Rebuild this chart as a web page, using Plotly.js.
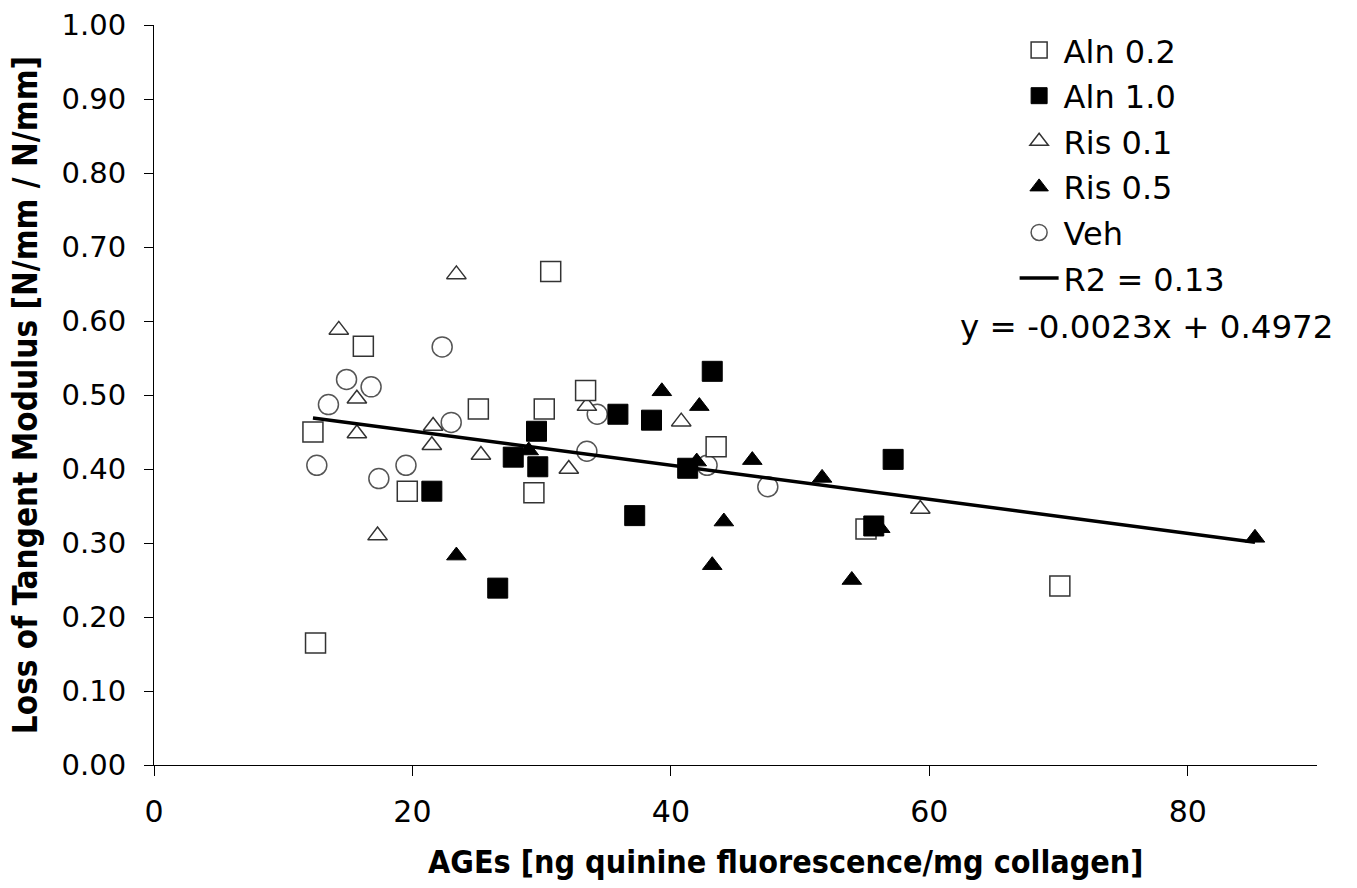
<!DOCTYPE html>
<html>
<head>
<meta charset="utf-8">
<script src="https://cdn.plot.ly/plotly-3.0.1.min.js"></script>
<style>html,body{margin:0;padding:0;background:#fff;}#chart{width:1357px;height:888px;}</style>
</head>
<body>
<div id="chart"></div>
<script>
// Data
var aln02X = [12.3, 16.2, 12.5, 19.6, 25.1, 30.7, 30.2, 29.4, 33.4, 43.5, 55.1, 70.1];
var aln02Y = [0.450, 0.566, 0.165, 0.370, 0.481, 0.667, 0.481, 0.368, 0.506, 0.430, 0.319, 0.242];

var aln10X = [21.5, 26.6, 27.8, 29.6, 29.7, 35.9, 37.2, 38.5, 41.3, 43.2, 55.7, 57.2];
var aln10Y = [0.370, 0.239, 0.416, 0.451, 0.403, 0.474, 0.337, 0.466, 0.401, 0.532, 0.323, 0.413];

var ris01X = [23.4, 14.3, 15.7, 15.7, 21.6, 21.5, 25.3, 17.3, 33.5, 32.1, 40.8, 59.3];
var ris01Y = [0.663, 0.588, 0.495, 0.448, 0.458, 0.432, 0.419, 0.310, 0.485, 0.400, 0.464, 0.346];

var ris05X = [23.4, 29.0, 39.3, 42.2, 42.0, 46.3, 44.1, 43.2, 51.7, 54.0, 56.2, 85.2];
var ris05Y = [0.283, 0.425, 0.505, 0.485, 0.410, 0.412, 0.329, 0.270, 0.388, 0.250, 0.320, 0.307];

var vehX = [14.9, 16.8, 13.5, 22.3, 23.0, 12.6, 19.5, 17.4, 34.3, 33.5, 42.8, 47.5];
var vehY = [0.521, 0.511, 0.487, 0.565, 0.463, 0.405, 0.405, 0.387, 0.474, 0.424, 0.405, 0.376];

var trendX = [12.3, 85.2];
var trendY = [0.469, 0.301];

var seriesNames = ["Aln 0.2", "Aln 1.0", "Ris 0.1", "Ris 0.5", "Veh", "R2 = 0.13"];
var equationText = "y = -0.0023x + 0.4972";
var xTitle = "AGEs [ng quinine fluorescence/mg collagen]";
var yTitle = "Loss of Tangent Modulus [N/mm / N/mm]";

var lineCol = "#333333";
function mk(x, y, name, rank, symbol, size, fill, lc, lw) {
  return {
    x: x, y: y, type: "scatter", mode: "markers", name: name,
    legendrank: rank, legendgroup: name,
    marker: {symbol: symbol, size: size, color: fill, line: {color: lc, width: lw}},
    hoverinfo: "x+y"
  };
}
var traces = [
  mk(vehX, vehY, seriesNames[4], 5, "circle", 20, "rgba(255,255,255,0)", "#555555", 1.5),
  mk(ris01X, ris01Y, seriesNames[2], 3, "triangle-up", 17, "#ffffff", lineCol, 1.5),
  mk(aln02X, aln02Y, seriesNames[0], 1, "square", 20, "#ffffff", lineCol, 1.5),
  mk(ris05X, ris05Y, seriesNames[3], 4, "triangle-up", 17, "#000000", "#000000", 1),
  mk(aln10X, aln10Y, seriesNames[1], 2, "square", 20, "#000000", "#000000", 1),
  {x: trendX, y: trendY, type: "scatter", mode: "lines", name: seriesNames[5],
   legendrank: 6, legendgroup: "trend",
   line: {color: "#000000", width: 3.5}, hoverinfo: "skip"}
];

var textFont = "DejaVu Sans, Verdana, sans-serif";
var titleFont = "DejaVu Sans Condensed, Liberation Sans Narrow, sans-serif";

var layout = {
  width: 1357, height: 888,
  paper_bgcolor: "#ffffff", plot_bgcolor: "#ffffff",
  margin: {l: 154, r: 40, t: 25, b: 123},
  font: {family: textFont, size: 30, color: "#000000"},
  showlegend: true,
  legend: {
    x: 0.74, y: 1.003, xanchor: "left", yanchor: "top",
    bgcolor: "rgba(255,255,255,0)", borderwidth: 0,
    font: {family: textFont, size: 32, color: "#000000"},
    traceorder: "grouped", tracegroupgap: 1, itemwidth: 39
  },
  xaxis: {
    range: [0, 90], dtick: 20, tick0: 0,
    showgrid: false, zeroline: false,
    showline: true, linecolor: "#000000", linewidth: 1,
    ticks: "outside", ticklen: 10, tickcolor: "#000000",
    ticklabelstandoff: 10,
    tickfont: {family: textFont, size: 30}
  },
  yaxis: {
    range: [0, 1], dtick: 0.1, tick0: 0, tickformat: ".2f",
    showgrid: false, zeroline: false,
    showline: true, linecolor: "#000000", linewidth: 1,
    ticks: "outside", ticklen: 9, tickcolor: "#000000",
    ticklabelstandoff: 12,
    tickfont: {family: textFont, size: 29},
    title: {text: yTitle, standoff: 14,
      font: {family: titleFont, size: 33, weight: "bold"}}
  },
  annotations: [{
    text: equationText, xref: "paper", yref: "paper",
    x: 1.0155, y: 0.592, xanchor: "right", yanchor: "middle",
    showarrow: false,
    font: {family: textFont, size: 32.5, color: "#000000"}
  }, {
    text: xTitle, xref: "paper", yref: "paper",
    x: 0.5434, y: -0.131, xanchor: "center", yanchor: "middle",
    showarrow: false,
    font: {family: titleFont, size: 32, weight: "bold", color: "#000000"}
  }]
};

Plotly.newPlot("chart", traces, layout, {displayModeBar: false, staticPlot: true});
</script>
</body>
</html>
